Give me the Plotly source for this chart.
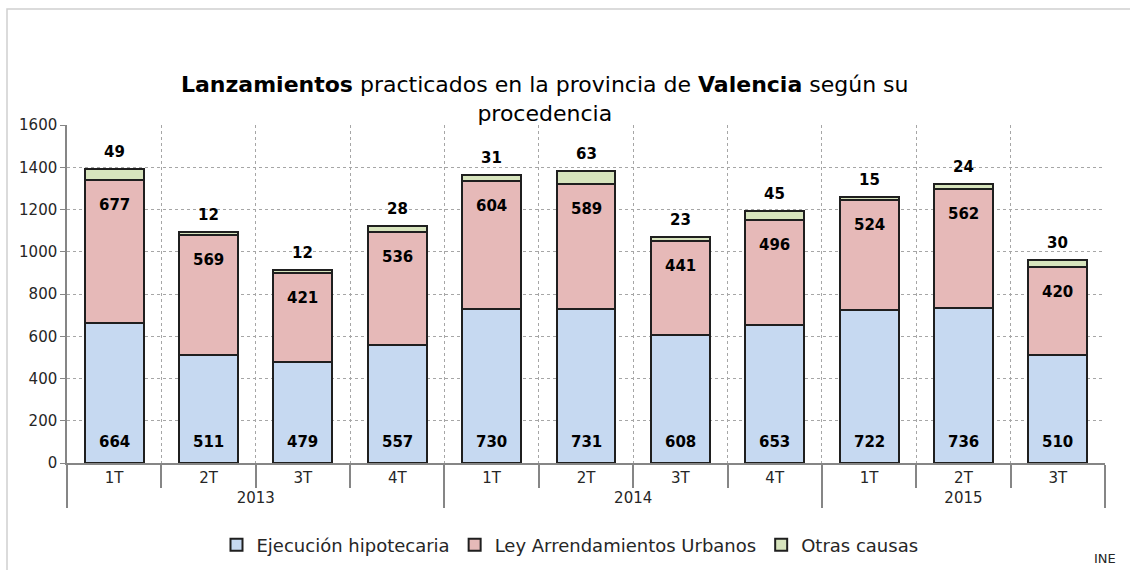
import plotly.graph_objects as go

years = ["2013"] * 4 + ["2014"] * 4 + ["2015"] * 3
quarters = ["1T", "2T", "3T", "4T", "1T", "2T", "3T", "4T", "1T", "2T", "3T"]
ejecucion = [664, 511, 479, 557, 730, 731, 608, 653, 722, 736, 510]
ley = [677, 569, 421, 536, 604, 589, 441, 496, 524, 562, 420]
otras = [49, 12, 12, 28, 31, 63, 23, 45, 15, 24, 30]

W, H = 1130, 570
ML, MR, MT, MB = 67, 25, 125, 107
PW, PH = W - ML - MR, H - MT - MB


def px_x(p):
    return (p - ML) / PW


def px_y(p):
    return (H - MB - p) / PH


FONT = "DejaVu Sans"
TXT = "#262626"
OUT = "#1f1f1f"

fig = go.Figure()
x = [years, quarters]
for name, vals, color in [
    ("Ejecución hipotecaria", ejecucion, "#C6D9F1"),
    ("Ley Arrendamientos Urbanos", ley, "#E6B9B8"),
    ("Otras causas", otras, "#D7E4BD"),
]:
    fig.add_trace(go.Bar(x=x, y=vals, name=name,
                         marker=dict(color=color, line=dict(color=OUT, width=2)),
                         hoverinfo="skip"))

# invisible helper axis for label placement
fig.add_trace(go.Scatter(x=list(range(len(quarters))), y=[0] * len(quarters),
                         xaxis="x2", mode="markers", marker=dict(opacity=0),
                         showlegend=False, hoverinfo="skip"))

ann = []
for i in range(len(quarters)):
    b, l, o = ejecucion[i], ley[i], otras[i]
    lf = dict(family=FONT, size=15, color="#000000")
    ann.append(dict(x=i, y=0, xref="x2", yref="y", text=f"<b>{b}</b>",
                    showarrow=False, yshift=21, font=lf))
    ann.append(dict(x=i, y=b + l, xref="x2", yref="y", text=f"<b>{l}</b>",
                    showarrow=False, yshift=-25, font=lf))
    ann.append(dict(x=i, y=b + l + o, xref="x2", yref="y", text=f"<b>{o}</b>",
                    showarrow=False, yshift=17, font=lf))

ann.append(dict(x=px_x(545), y=px_y(99), xref="paper", yref="paper",
                text="<b>Lanzamientos</b> practicados en la provincia de <b>Valencia</b> según su<br>procedencia",
                showarrow=False, xanchor="center", yanchor="middle",
                font=dict(family=FONT, size=22, color="#000000")))
ann.append(dict(x=px_x(1118), y=px_y(558), xref="paper", yref="paper", text="INE",
                showarrow=False, xanchor="right", yanchor="middle",
                font=dict(family=FONT, size=13, color=TXT)))

fig.update_layout(
    width=W, height=H,
    margin=dict(l=ML, r=MR, t=MT, b=MB, autoexpand=False),
    paper_bgcolor="white", plot_bgcolor="white",
    barmode="stack", bargap=0.375,
    font=dict(family=FONT, size=14, color=TXT),
    showlegend=True,
    legend=dict(orientation="h", x=px_x(570), y=px_y(545), xanchor="center", yanchor="middle",
                font=dict(family=FONT, size=18, color=TXT), itemwidth=30,
                traceorder="normal", bgcolor="rgba(0,0,0,0)"),
    xaxis=dict(type="multicategory", showline=True, linecolor="#868686", linewidth=1.5,
               showgrid=True, gridcolor="#A6A6A6", griddash="dot", gridwidth=1,
               ticks="outside", ticklen=23, tickcolor="#868686", tickwidth=1.5,
               tickson="boundaries", dividercolor="#868686", dividerwidth=1.5,
               tickfont=dict(family=FONT, size=15, color=TXT), fixedrange=True),
    xaxis2=dict(overlaying="x", range=[-0.5, len(quarters) - 0.5], visible=False,
                fixedrange=True),
    yaxis=dict(range=[0, 1600], dtick=200, showline=True, linecolor="#868686", linewidth=1.5,
               showgrid=True, gridcolor="#A6A6A6", griddash="dot", gridwidth=1,
               zeroline=False, ticks="outside", ticklen=5, tickcolor="#868686",
               tickfont=dict(family=FONT, size=15, color=TXT), fixedrange=True),
    annotations=ann,
    shapes=[dict(type="rect", xref="paper", yref="paper",
                 x0=px_x(7), x1=px_x(1200), y0=px_y(640), y1=px_y(9),
                 line=dict(color="#D0D0D0", width=1.5), layer="below")],
)

fig.write_html("out.html", config={"displayModeBar": False},
               post_script="document.body.style.margin='0';document.body.style.overflow='hidden';")
